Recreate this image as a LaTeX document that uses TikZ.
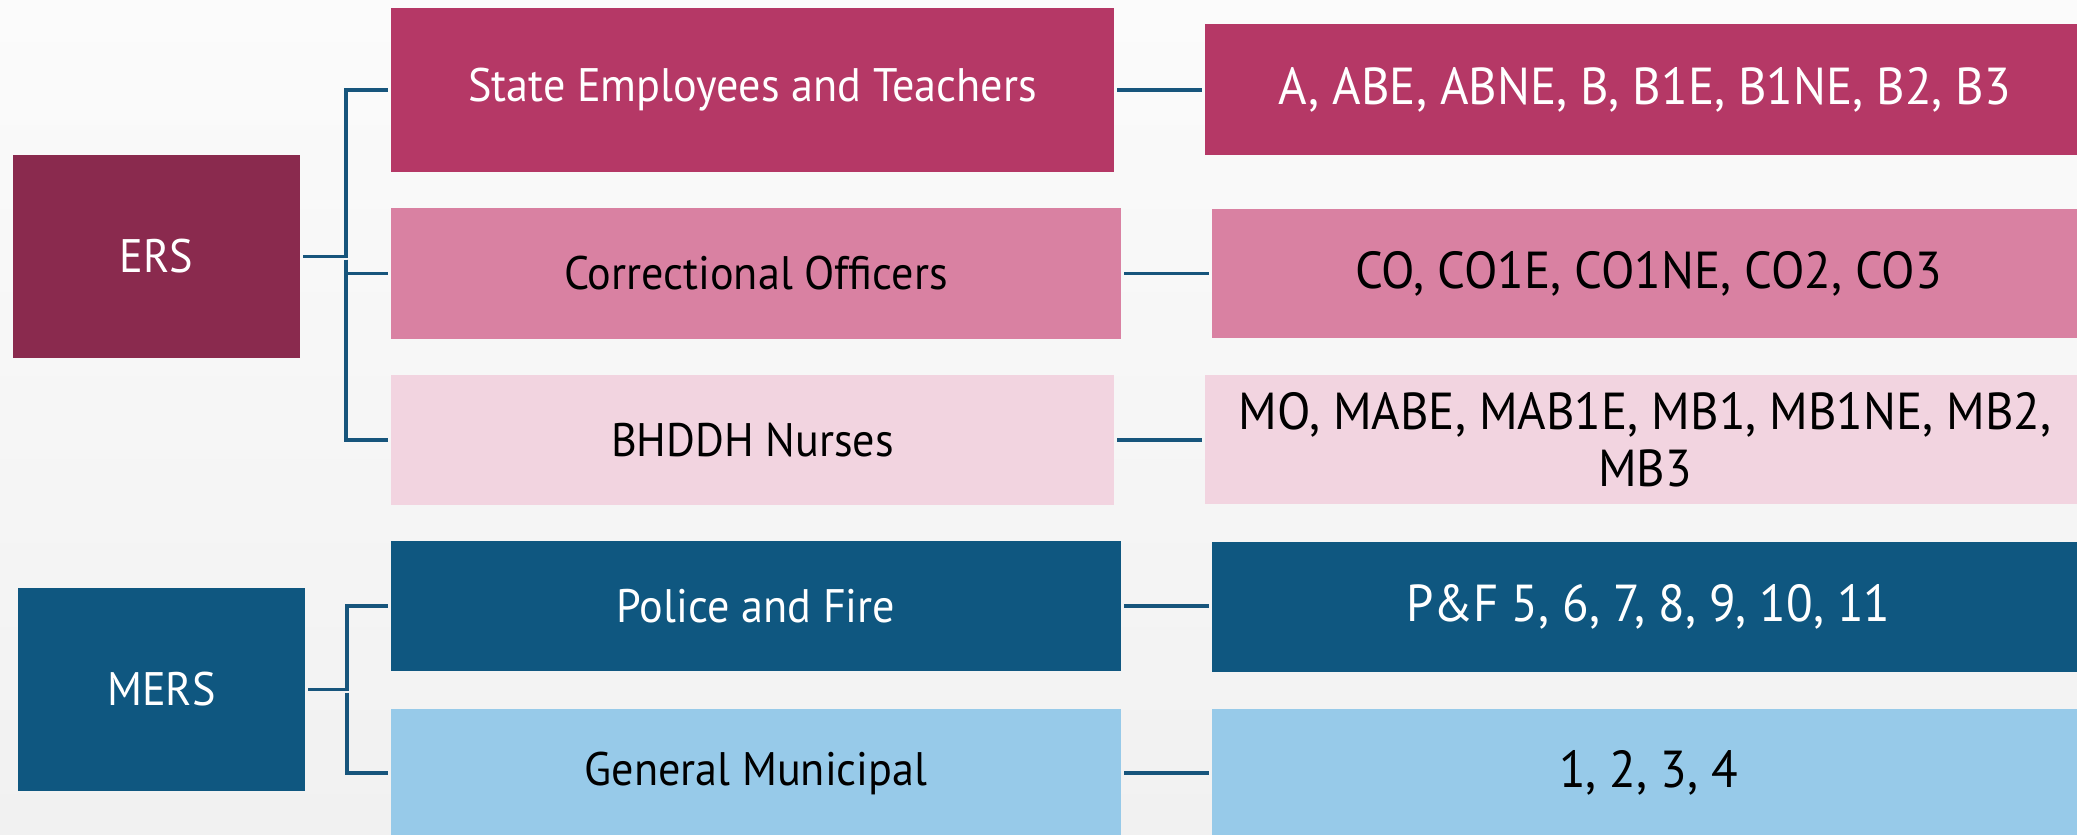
\documentclass[tikz,border=0pt]{standalone}
\usepackage{fontspec}
\setmainfont{PT Sans}[FakeStretch=0.94]
\definecolor{ersc}{HTML}{8A2A4E}
\definecolor{setc}{HTML}{B53866}
\definecolor{coc}{HTML}{D981A2}
\definecolor{nurc}{HTML}{F2D4E0}
\definecolor{mersc}{HTML}{0F5780}
\definecolor{genc}{HTML}{97CAE9}
\definecolor{linec}{HTML}{17557C}
\definecolor{bgtop}{HTML}{FBFBFB}
\definecolor{bgbot}{HTML}{F1F1F1}
\tikzset{
  box/.style={rectangle, inner sep=0pt, outer sep=0pt, align=center},
  midtext/.style={font=\fontsize{47}{56}\selectfont},
  righttext/.style={font=\fontsize{52}{57}\selectfont},
  conn/.style={draw=linec, line width=3.4pt, shorten <=3pt, shorten >=3pt},
}
\begin{document}
\begin{tikzpicture}[x=1pt,y=-1pt]
\path[use as bounding box] (0,0) rectangle (2077,835);
\clip (0,0) rectangle (2077,835);
\shade[top color=bgtop, bottom color=bgbot] (0,0) rectangle (2077,835);

% parent plans
\node[box, midtext, fill=ersc, text=white, minimum width=287, minimum height=203] (ers) at (156.5,256.5) {ERS};
\node[box, midtext, fill=mersc, text=white, minimum width=287, minimum height=203] (mers) at (161.5,689.5) {MERS};

% groups
\node[box, midtext, fill=setc, text=white, minimum width=723, minimum height=164] (state) at (752.5,90) {State Employees and Teachers};
\node[box, midtext, fill=coc, text=black, minimum width=730, minimum height=131] (corr) at (756,273.5) {Correctional Officers};
\node[box, midtext, fill=nurc, text=black, minimum width=723, minimum height=130] (nurse) at (752.5,440) {BHDDH Nurses};
\node[box, midtext, fill=mersc, text=white, minimum width=730, minimum height=130] (police) at (756,606) {Police and Fire};
\node[box, midtext, fill=genc, text=black, minimum width=730, minimum height=128] (general) at (756,773) {General Municipal};

% plan codes
\node[box, righttext, fill=setc, text=white, minimum width=880, minimum height=131] (codesA) at (1645,89.5) {A, ABE, ABNE, B, B1E, B1NE, B2, B3};
\node[box, righttext, fill=coc, text=black, minimum width=873, minimum height=129] (codesCO) at (1648.5,273.5) {CO, CO1E, CO1NE, CO2, CO3};
\node[box, righttext, fill=nurc, text=black, minimum width=880, minimum height=129] (codesM) at (1645,439.5) {MO, MABE, MAB1E, MB1, MB1NE, MB2,\\MB3};
\node[box, righttext, fill=mersc, text=white, minimum width=873, minimum height=130] (codesPF) at (1648.5,606.5) {P\&F 5, 6, 7, 8, 9, 10, 11};
\node[box, righttext, fill=genc, text=black, minimum width=873, minimum height=128] (codesG) at (1648.5,773) {1, 2, 3, 4};

% tree connectors
\coordinate (ersfork) at (346,256.5);
\coordinate (mersfork) at (347,689.5);
\draw[conn] (ers.east) -- (ersfork) |- (state.west);
\draw[conn] (ersfork) |- (corr.west);
\draw[conn] (ersfork) |- (nurse.west);
\draw[conn] (mers.east) -- (mersfork) |- (police.west);
\draw[conn] (mersfork) |- (general.west);

% group to codes
\draw[conn] (state.east) -- (state.east -| codesA.west);
\draw[conn] (corr.east) -- (corr.east -| codesCO.west);
\draw[conn] (nurse.east) -- (nurse.east -| codesM.west);
\draw[conn] (police.east) -- (police.east -| codesPF.west);
\draw[conn] (general.east) -- (general.east -| codesG.west);
\end{tikzpicture}
\end{document}
